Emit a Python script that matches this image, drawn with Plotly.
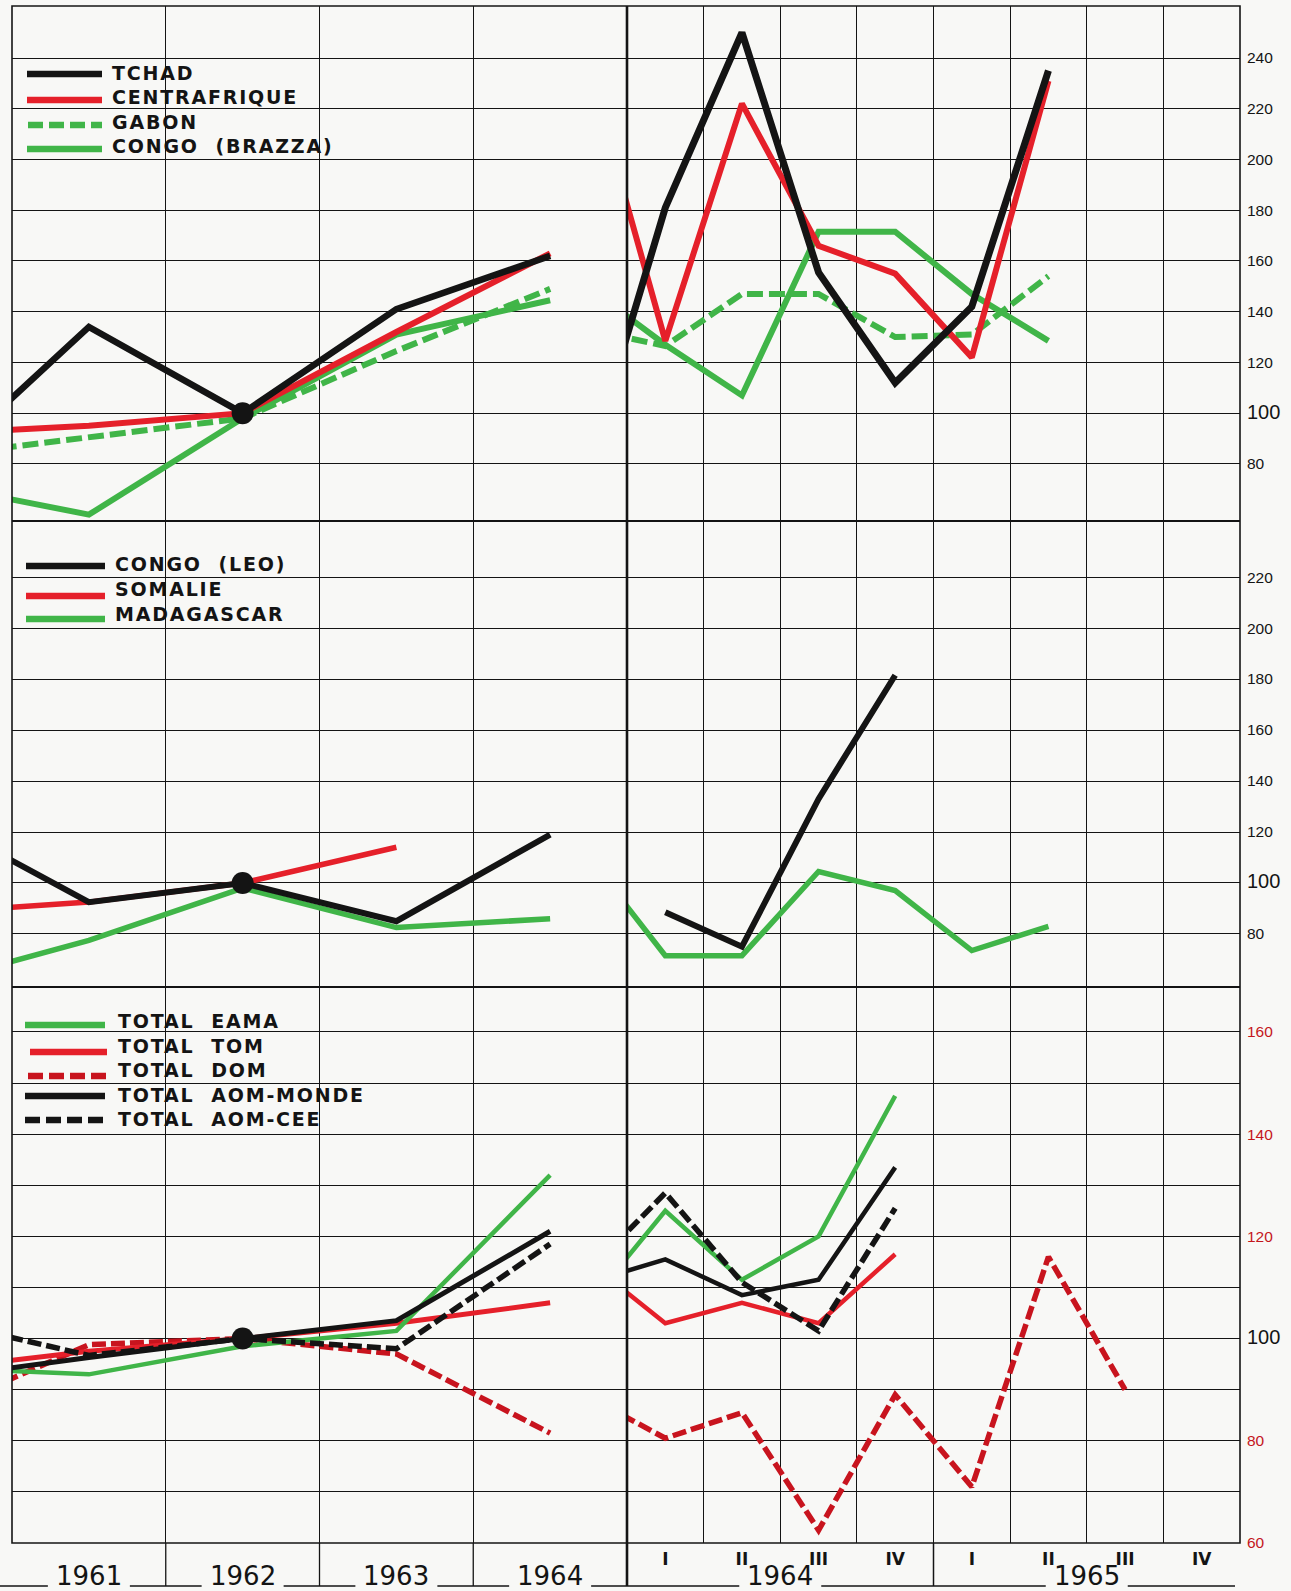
import plotly.graph_objects as go

# ---------------- DATA (indices, base 1962 = 100) ----------------
# Annual section: 1960 lies just outside the frame (the lines enter from the left edge)
YEARS = [1960, 1961, 1962, 1963, 1964]
YEAR_LABELS = ["1961", "1962", "1963", "1964"]
# Quarterly section: index -1 = 1963-IV (outside the frame), 0..7 = 1964-I .. 1965-IV
QUARTER_INDEX = [-1, 0, 1, 2, 3, 4, 5, 6, 7]
QUARTER_LABELS = ["I", "II", "III", "IV", "I", "II", "III", "IV"]
QUARTER_YEARS = ["1964", "1965"]

BASE_YEAR = 1962
BASE_VALUE = 100

# Panel 1
TCHAD_A = [78, 134, 100, 141, 162]
CENTRAFRIQUE_A = [92, 95, 100, 132, 163]
GABON_A = [83, 90.5, 98, 124.5, 149]
CONGO_BRAZZA_A = [72, 60, 98, 131, 144.5]
TCHAD_Q = [80, 181, 250, 155.5, 112, 142, 235]
CENTRAFRIQUE_Q = [236, 128.5, 222, 166, 155, 122, 231]
GABON_Q = [133, 126.5, 147, 147, 130, 131, 154]
CONGO_BRAZZA_Q = [149.5, 127, 107, 171.5, 171.5, 147, 128.5]

# Panel 2
CONGO_LEO_A = [125, 92.5, 100, 85, 119]
SOMALIE_A = [88.5, 92.5, 100, 114, None]
MADAGASCAR_A = [61, 77.5, 98, 82.5, 86]
CONGO_LEO_Q = [None, 88.5, 75, 133, 181.5]
MADAGASCAR_Q = [110, 71.5, 71.5, 104.5, 97, 73.5, 83]

# Panel 3
EAMA_A = [94.3, 93, 98.5, 101.5, 132]
TOM_A = [94, 97.5, 100, 103, 107]
DOM_A = [85.6, 98.8, 100, 97, 81.5]
AOM_MONDE_A = [92.3, 96.3, 100, 103.5, 121]
AOM_CEE_A = [103.7, 96.7, 100, 98, 118.5]
EAMA_Q = [106.7, 125, 111.5, 120, 147.5]
TOM_Q = [115, 103, 107, 103, 116.5]
DOM_Q = [88.6, 80.5, 85.5, 62.5, 89, 71, 116, 90]
AOM_MONDE_Q = [111, 115.5, 108.5, 111.5, 133.5]
AOM_CEE_Q = [113.2, 128.5, 111, 101.5, 125.5]

P1_TICKS = [80, 100, 120, 140, 160, 180, 200, 220, 240]
P2_TICKS = [80, 100, 120, 140, 160, 180, 200, 220]
P3_TICKS = [60, 70, 80, 90, 100, 110, 120, 130, 140, 150, 160]

# ---------------- LAYOUT HELPERS ----------------
W, H = 1291, 1591
ML, MR, MT, MB = 12, 51, 6, 48
PW, PH = W - ML - MR, H - MT - MB


def fx(px):
    return (px - ML) / PW


def fy(py):
    return (H - MB - py) / PH


DIV = fx(627)
P1_BOT = fy(521)
P2_BOT = fy(987)

BG = "#f8f8f6"
INK = "#141414"
RED = "#e5202a"
DKRED = "#c8141e"
GREEN = "#40b548"
TICKRED = "#c4161c"
DASH = "16px,6px"
DASH3 = "14px,5px"
KEYDASH = "15px,6px"

fig = go.Figure()


def series(xs, ys, xa, ya, color, width, dash="solid"):
    fig.add_trace(go.Scatter(
        x=xs[:len(ys)], y=ys, xaxis=xa, yaxis=ya, mode="lines",
        line=dict(color=color, width=width, dash=dash),
        showlegend=False, hoverinfo="skip", connectgaps=False))


def base_point(ya):
    fig.add_trace(go.Scatter(
        x=[BASE_YEAR], y=[BASE_VALUE], xaxis="x", yaxis=ya, mode="markers",
        marker=dict(size=22, color=INK), showlegend=False, hoverinfo="skip"))


# Panel 1
series(YEARS, CONGO_BRAZZA_A, "x", "y", GREEN, 6)
series(YEARS, GABON_A, "x", "y", GREEN, 6, DASH)
series(YEARS, CENTRAFRIQUE_A, "x", "y", RED, 6)
series(YEARS, TCHAD_A, "x", "y", INK, 6.5)
series(QUARTER_INDEX, CONGO_BRAZZA_Q, "x2", "y", GREEN, 6)
series(QUARTER_INDEX, GABON_Q, "x2", "y", GREEN, 6, DASH)
series(QUARTER_INDEX, CENTRAFRIQUE_Q, "x2", "y", RED, 6)
series(QUARTER_INDEX, TCHAD_Q, "x2", "y", INK, 7)
base_point("y")

# Panel 2
series(YEARS, MADAGASCAR_A, "x", "y2", GREEN, 5.5)
series(YEARS, SOMALIE_A, "x", "y2", RED, 5.5)
series(YEARS, CONGO_LEO_A, "x", "y2", INK, 6)
series(QUARTER_INDEX, MADAGASCAR_Q, "x2", "y2", GREEN, 5.5)
series(QUARTER_INDEX, CONGO_LEO_Q, "x2", "y2", INK, 6)
base_point("y2")

# Panel 3
series(YEARS, DOM_A, "x", "y3", DKRED, 5.5, DASH3)
series(YEARS, TOM_A, "x", "y3", RED, 5)
series(YEARS, EAMA_A, "x", "y3", GREEN, 4.5)
series(YEARS, AOM_MONDE_A, "x", "y3", INK, 5)
series(YEARS, AOM_CEE_A, "x", "y3", INK, 5.5, DASH3)
series(QUARTER_INDEX, DOM_Q, "x2", "y3", DKRED, 5.5, DASH3)
series(QUARTER_INDEX, TOM_Q, "x2", "y3", RED, 4.5)
series(QUARTER_INDEX, EAMA_Q, "x2", "y3", GREEN, 4.5)
series(QUARTER_INDEX, AOM_MONDE_Q, "x2", "y3", INK, 4.5)
series(QUARTER_INDEX, AOM_CEE_Q, "x2", "y3", INK, 5.5, DASH3)
base_point("y3")


def ticktext(vals, labelled, big_color=None):
    out = []
    for v in vals:
        if v not in labelled:
            out.append("")
        elif v == 100:
            st = "font-size:20px" + (";color:%s" % big_color if big_color else "")
            out.append('<span style="%s">100</span>' % st)
        else:
            out.append(str(v))
    return out


def yaxis(domain, rng, vals, labelled, color, big_color=None):
    return dict(domain=domain, range=rng, anchor="x2", side="right",
                tickmode="array", tickvals=vals,
                ticktext=ticktext(vals, labelled, big_color),
                ticks="", showgrid=True, gridcolor=INK, gridwidth=1.3,
                zeroline=False, showline=False, fixedrange=True,
                ticklabelstandoff=6,
                tickfont=dict(family="Liberation Sans", size=15.5, color=color))


fig.update_layout(
    width=W, height=H, autosize=False,
    margin=dict(l=ML, r=MR, t=MT, b=MB),
    paper_bgcolor=BG, plot_bgcolor=BG,
    showlegend=False,
    xaxis=dict(domain=[0, DIV], range=[1960.5, 1964.5], anchor="y3",
               tickmode="array", tickvals=[1961.5, 1962.5, 1963.5],
               showticklabels=False, ticks="", showgrid=True,
               gridcolor=INK, gridwidth=1.3, zeroline=False,
               showline=False, fixedrange=True),
    xaxis2=dict(domain=[DIV, 1], range=[-0.5, 7.5], anchor="y3",
                tickmode="array", tickvals=list(range(8)),
                ticktext=QUARTER_LABELS, ticks="", showgrid=False,
                zeroline=False, showline=False, fixedrange=True,
                ticklabelstandoff=4,
                tickfont=dict(family="DejaVu Sans", size=17, color=INK,
                              weight="bold"),
                minor=dict(tickmode="array",
                           tickvals=[i + 0.5 for i in range(7)],
                           showgrid=True, gridcolor=INK, gridwidth=1.3,
                           ticks="")),
    yaxis=yaxis([P1_BOT, 1], [57.5, 260.5], P1_TICKS, P1_TICKS, INK),
    yaxis2=yaxis([P2_BOT, P1_BOT], [59.2, 242], P2_TICKS, P2_TICKS, INK),
    yaxis3=yaxis([0, P2_BOT], [60, 168.8], P3_TICKS,
                 [60, 80, 100, 120, 140, 160], TICKRED, INK),
)

shapes = []
# boxes behind the legends (hide the grid there)
for (x0, x1, y0, y1) in [(103, 312, 59, 110), (103, 330, 106, 160),
                         (105, 318, 552, 628), (107, 383, 987, 1133)]:
    shapes.append(dict(type="rect", xref="paper", yref="paper",
                       x0=fx(x0), x1=fx(x1), y0=fy(y1), y1=fy(y0),
                       fillcolor=BG, line=dict(width=0), layer="between"))

# frame, panel separators and the annual / quarterly divider
shapes.append(dict(type="rect", xref="paper", yref="paper", x0=0, x1=1, y0=0, y1=1,
                   line=dict(color=INK, width=1.6)))
for yy in (P1_BOT, P2_BOT):
    shapes.append(dict(type="line", xref="paper", yref="paper", x0=0, x1=1,
                       y0=yy, y1=yy, line=dict(color=INK, width=2.2)))
UNDER_Y = fy(1586)
shapes.append(dict(type="line", xref="paper", yref="paper", x0=DIV, x1=DIV,
                   y0=UNDER_Y, y1=1, line=dict(color=INK, width=2.6)))

# period separators continued below the frame
year_w = DIV / 4.0
q_w = (1 - DIV) / 8.0
for k in (1, 2, 3):
    shapes.append(dict(type="line", xref="paper", yref="paper",
                       x0=k * year_w, x1=k * year_w, y0=UNDER_Y, y1=0,
                       line=dict(color=INK, width=1.3)))
shapes.append(dict(type="line", xref="paper", yref="paper",
                   x0=DIV + 4 * q_w, x1=DIV + 4 * q_w, y0=UNDER_Y, y1=0,
                   line=dict(color=INK, width=1.5)))

# leader lines between the period labels
centers = [(i + 0.5) * year_w for i in range(4)] + [DIV + 2 * q_w, DIV + 6 * q_w]
half = 41 / PW
edges = [fx(0)]
for c in centers:
    edges += [c - half, c + half]
edges.append(fx(1235))
for a, b in zip(edges[0::2], edges[1::2]):
    shapes.append(dict(type="line", xref="paper", yref="paper", x0=a, x1=b,
                       y0=UNDER_Y, y1=UNDER_Y, line=dict(color=INK, width=1.6)))

annotations = []


def legend_row(x0, x1, y_line, y_text, x_text, color, label, dash="solid", width=6.5):
    shapes.append(dict(type="line", xref="paper", yref="paper",
                       x0=fx(x0), x1=fx(x1), y0=fy(y_line), y1=fy(y_line),
                       line=dict(color=color, width=width, dash=dash)))
    annotations.append(dict(
        xref="paper", yref="paper", x=fx(x_text), y=fy(y_text),
        xanchor="left", yanchor="middle", showarrow=False,
        text='<span style="letter-spacing:1.8px">%s</span>' % label,
        font=dict(family="DejaVu Sans", size=19, color=INK, weight="bold")))


legend_row(27, 102, 74, 73, 110, INK, "TCHAD")
legend_row(27, 102, 100, 97, 110, RED, "CENTRAFRIQUE")
legend_row(28, 102, 125, 122, 110, GREEN, "GABON", KEYDASH)
legend_row(27, 102, 149, 146, 110, GREEN, "CONGO  (BRAZZA)")

legend_row(26, 105, 566, 564, 113, INK, "CONGO  (LEO)")
legend_row(26, 105, 596, 589, 113, RED, "SOMALIE")
legend_row(26, 105, 619, 614, 113, GREEN, "MADAGASCAR")

legend_row(25, 105, 1025, 1021, 116, GREEN, "TOTAL  EAMA")
legend_row(30, 107, 1052, 1046, 116, RED, "TOTAL  TOM")
legend_row(28, 107, 1076, 1070, 116, DKRED, "TOTAL  DOM", KEYDASH)
legend_row(25, 105, 1096, 1095, 116, INK, "TOTAL  AOM-MONDE")
legend_row(25, 105, 1120, 1119, 116, INK, "TOTAL  AOM-CEE", KEYDASH)

# period labels under the frame
LABEL_Y = fy(1576)
for i, lab in enumerate(YEAR_LABELS):
    annotations.append(dict(xref="x", yref="paper", x=int(lab), y=LABEL_Y,
                            xanchor="center", yanchor="middle", showarrow=False,
                            text=lab, font=dict(family="DejaVu Sans", size=26, color=INK)))
for i, lab in enumerate(QUARTER_YEARS):
    annotations.append(dict(xref="x2", yref="paper", x=1.5 + 4 * i, y=LABEL_Y,
                            xanchor="center", yanchor="middle", showarrow=False,
                            text=lab, font=dict(family="DejaVu Sans", size=26, color=INK)))

fig.update_layout(shapes=shapes, annotations=annotations)

fig.write_html("out.html", config={"displayModeBar": False},
               post_script="document.body.style.margin='0';document.body.style.padding='0';")
